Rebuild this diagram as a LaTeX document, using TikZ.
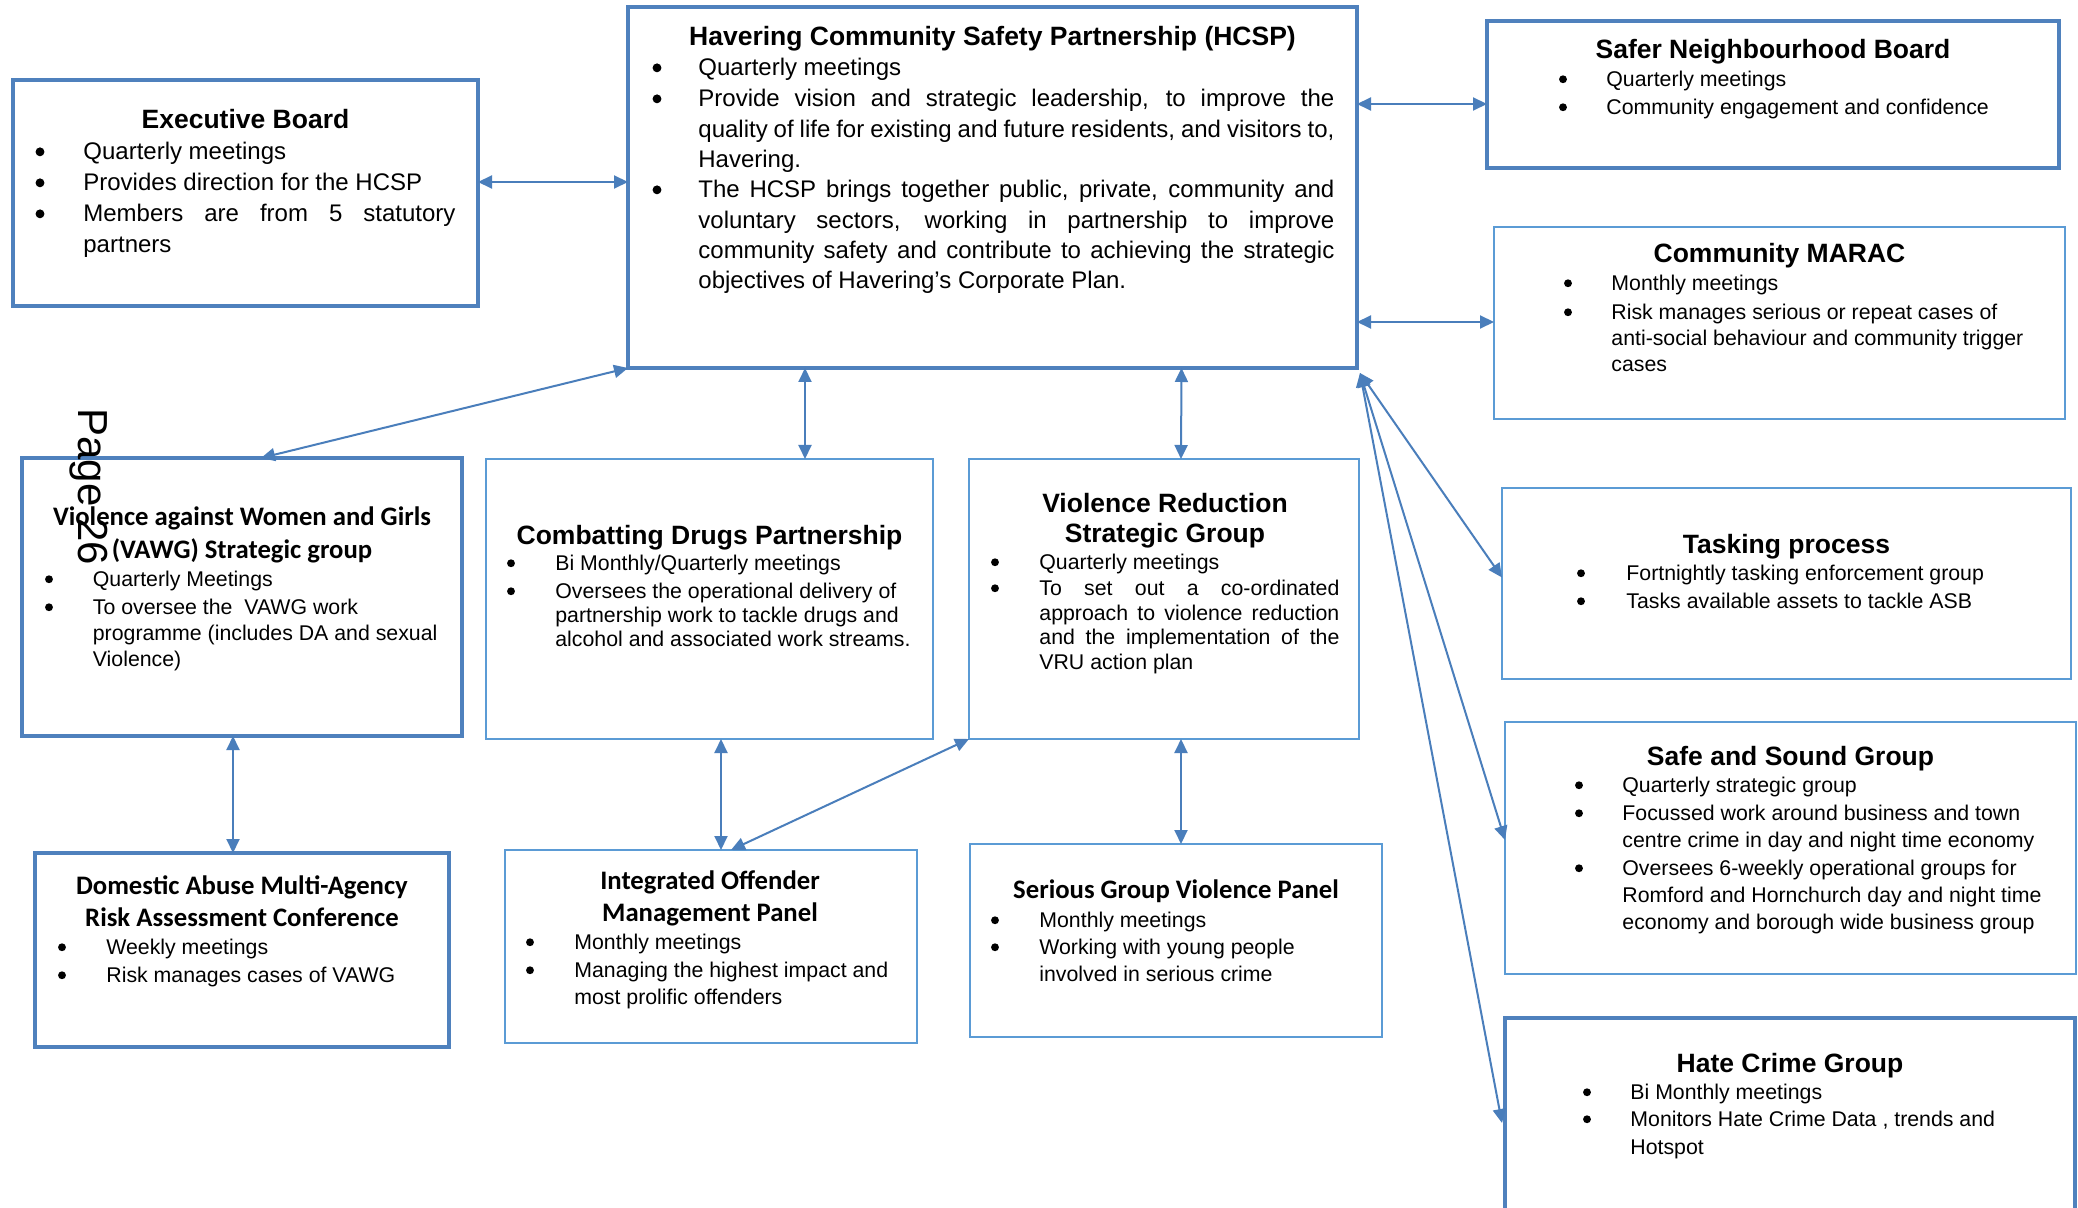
\documentclass[tikz,border=0pt]{standalone}
\usepackage{fontspec}
\setmainfont{Liberation Sans}
\newfontfamily\calibri{Carlito}
\usetikzlibrary{arrows.meta,fit,calc}
\definecolor{thickc}{HTML}{4F81BD}
\definecolor{thinc}{HTML}{5B9BD5}
\definecolor{arrc}{HTML}{4A7EBB}
\newdimen\upx \upx=0.5pt
% name, bullet x, text x, baseline, width(px), font size(pt), baselineskip(pt), text
\newcommand\bpar[8]{%
  \node[bul,minimum size={0.37*#6*1pt}] (#1b) at (#2,{#4-0.68*#6}) {};
  \node[txt] (#1) at (#3,#4) {\parbox[t]{#5\upx}{\fontsize{#6}{#7}\selectfont\tolerance=10000 \hyphenpenalty=10000 \exhyphenpenalty=10000 #8}};}
\begin{document}
\begin{tikzpicture}[x=0.5pt,y=-0.5pt,
  thickbox/.style={draw=thickc, line width=2.35pt, inner sep=0pt, outer sep=0pt},
  thinbox/.style={draw=thinc, line width=1.15pt, inner sep=0pt, outer sep=0pt},
  ttl/.style={inner sep=0pt, anchor=base, font=\fontsize{13.25}{16}\selectfont\bfseries},
  cttl/.style={inner sep=0pt, anchor=base, font=\calibri\fontsize{13.35}{16}\selectfont\bfseries},
  bul/.style={circle, fill=black, inner sep=0pt},
  txt/.style={inner sep=0pt, anchor=base west},
  conn/.style={draw=arrc, line width=1pt, {Triangle[length=7pt,width=6.5pt]}-{Triangle[length=7pt,width=6.5pt]}}]
\fill[white] (0,0) rectangle (2078,1208);
\useasboundingbox (0,0) rectangle (2078,1208);

% Executive Board
\node[thickbox, fit={(13,80) (478,306)}] (exec) {};
\node[ttl] (exect) at (245.5,129) {Executive Board};
\bpar{exa}{40}{83}{160}{372}{12}{15.5}{Quarterly meetings}
\bpar{exb}{40}{83}{191}{372}{12}{15.5}{Provides direction for the HCSP}
\bpar{exc}{40}{83}{222}{372}{12}{15.5}{Members are from 5 statutory\linebreak partners}

% HCSP
\node[thickbox, fit={(628,7) (1357,368)}] (hcsp) {};
\node[ttl] (hcspt) at (992.5,46) {Havering Community Safety Partnership (HCSP)};
\bpar{ha}{657}{698}{76}{636}{12}{15.15}{Quarterly meetings}
\bpar{hb}{657}{698}{107}{636}{12}{15.15}{Provide vision and strategic leadership, to improve the\linebreak quality of life for existing and future residents, and visitors to,\linebreak Havering.}
\bpar{hc}{657}{698}{198}{636}{12}{15.15}{The HCSP brings together public, private, community and\linebreak voluntary sectors, working in partnership to improve\linebreak community safety and contribute to achieving the strategic\linebreak objectives of Havering’s Corporate Plan.}

% Safer Neighbourhood Board
\node[thickbox, fit={(1487,21) (2059,168)}] (safer) {};
\node[ttl] (safert) at (1773,59) {Safer Neighbourhood Board};
\bpar{sa}{1563}{1606}{86.5}{440}{10.65}{13.9}{Quarterly meetings}
\bpar{sb}{1563}{1606}{114.5}{440}{10.65}{13.9}{Community engagement and confidence}

% Community MARAC
\node[thinbox, fit={(1494,227) (2065,419)}] (marac) {};
\node[ttl] (maract) at (1779.5,263) {Community MARAC};
\bpar{ma}{1568}{1611}{290.5}{440}{10.65}{13}{Monthly meetings}
\bpar{mb}{1568}{1611}{319.5}{440}{10.65}{13}{\raggedright Risk manages serious or repeat cases of\\ anti-social behaviour and community trigger\\ cases}

% VAWG
\node[thickbox, fit={(22,458) (462,736)}] (vawg) {};
\node[cttl] (vawgt1) at (242,525.5) {Violence against Women and Girls};
\node[cttl] (vawgt2) at (242,558.5) {(VAWG) Strategic group};
\bpar{va}{49}{92.5}{586.5}{360}{10.65}{13}{Quarterly Meetings}
\bpar{vb}{49}{92.5}{614.5}{360}{10.65}{13}{\raggedright To oversee the\ \ VAWG work\\ programme (includes DA and sexual\\ Violence)}

% Combatting Drugs Partnership
\node[thinbox, fit={(486,459) (933,739)}] (cdp) {};
\node[ttl] (cdpt) at (709.5,544.3) {Combatting Drugs Partnership};
\bpar{ca}{511}{555}{570.5}{370}{10.65}{12}{Bi Monthly/Quarterly meetings}
\bpar{cb}{511}{555}{598.5}{370}{10.65}{12}{\raggedright Oversees the operational delivery of\\ partnership work to tackle drugs and\\ alcohol and associated work streams.}

% Violence Reduction Strategic Group
\node[thinbox, fit={(969,459) (1359,739)}] (vrsg) {};
\node[ttl] (vrsgt1) at (1165,512.3) {Violence Reduction};
\node[ttl] (vrsgt2) at (1165,542.3) {Strategic Group};
\bpar{ra}{995}{1039}{569.5}{300}{10.65}{12.35}{Quarterly meetings}
\bpar{rb}{995}{1039}{595.5}{300}{10.65}{12.35}{To set out a co-ordinated\linebreak approach to violence reduction\linebreak and the implementation of the\linebreak VRU action plan}

% Tasking process
\node[thinbox, fit={(1502,488) (2071,679)}] (task) {};
\node[ttl] (taskt) at (1786.5,553.3) {Tasking process};
\bpar{ta}{1581}{1626}{580.5}{430}{10.65}{14}{Fortnightly tasking enforcement group}
\bpar{tb}{1581}{1626}{608.5}{430}{10.65}{14}{Tasks available assets to tackle ASB}

% Safe and Sound Group
\node[thinbox, fit={(1505,722) (2076,974)}] (sas) {};
\node[ttl] (sast) at (1790.5,765.3) {Safe and Sound Group};
\bpar{aa}{1579}{1622}{792.5}{440}{10.65}{13.6}{Quarterly strategic group}
\bpar{ab}{1579}{1622}{820.5}{440}{10.65}{13.6}{\raggedright Focussed work around business and town\\ centre crime in day and night time economy}
\bpar{ac}{1579}{1622}{875.5}{440}{10.65}{13.6}{\raggedright Oversees 6-weekly operational groups for\\ Romford and Hornchurch day and night time\\ economy and borough wide business group}

% Hate Crime Group
\node[thickbox, fit={(1505,1018) (2075,1240)}] (hate) {};
\node[ttl] (hatet) at (1790,1072.3) {Hate Crime Group};
\bpar{ka}{1587}{1630}{1099.5}{430}{10.65}{14}{Bi Monthly meetings}
\bpar{kb}{1587}{1630}{1126.5}{430}{10.65}{14}{\raggedright Monitors Hate Crime Data , trends and\\ Hotspot}

% Domestic Abuse MARAC
\node[thickbox, fit={(35,853) (449,1047)}] (dam) {};
\node[cttl] (damt1) at (242,894.6) {Domestic Abuse Multi-Agency};
\node[cttl] (damt2) at (242,926.6) {Risk Assessment Conference};
\bpar{da}{62}{106}{954.5}{330}{10.65}{13}{Weekly meetings}
\bpar{db}{62}{106}{982.5}{330}{10.65}{13}{Risk manages cases of VAWG}

% Integrated Offender Management Panel
\node[thinbox, fit={(505,850) (917,1043)}] (iom) {};
\node[cttl] (iomt1) at (710,889.6) {Integrated Offender};
\node[cttl] (iomt2) at (710,921.6) {Management Panel};
\bpar{ia}{530}{574}{949.5}{330}{10.65}{13.5}{Monthly meetings}
\bpar{ib}{530}{574}{977.5}{330}{10.65}{13.5}{\raggedright Managing the highest impact and\\ most prolific offenders}

% Serious Group Violence Panel
\node[thinbox, fit={(970,844) (1382,1037)}] (sgv) {};
\node[cttl] (sgvt) at (1176,898.6) {Serious Group Violence Panel};
\bpar{ga}{995}{1039}{927.5}{330}{10.65}{13.5}{Monthly meetings}
\bpar{gb}{995}{1039}{954.5}{330}{10.65}{13.5}{\raggedright Working with young people\\ involved in serious crime}

% connectors
\draw[conn] ($(exec.east)+(0,-11)$) -- ($(hcsp.west)+(0,-5.5)$);
\draw[conn] ($(hcsp.east)+(0,-83.5)$) -- ($(safer.west)+(0,9.5)$);
\draw[conn] ($(hcsp.east)+(0,134.5)$) -- ($(marac.west)+(0,-1)$);
\draw[conn] (hcsp.south west) -- ($(vawg.north)+(19,0)$);
\draw[conn] ($(hcsp.south)+(-187.5,0)$) -- ($(cdp.north)+(95.5,0)$);
\draw[conn] ($(hcsp.south)+(189,0)$) -- ($(vrsg.north)+(17,0)$);
\draw[conn] ($(hcsp.south east)+(3,5)$) -- ($(task.west)+(0,-6)$);
\draw[conn] ($(hcsp.south east)+(3,5)$) -- ($(sas.west)+(0,-8)$);
\draw[conn] ($(hcsp.south east)+(3,5)$) -- ($(hate.north west)+(-3,105)$);
\draw[conn] ($(vawg.south)+(-9,0)$) -- ($(dam.north)+(-9,0)$);
\draw[conn] ($(cdp.south)+(11.5,0)$) -- ($(iom.north)+(10,0)$);
\draw[conn] (vrsg.south west) -- ($(iom.north)+(20,0)$);
\draw[conn] ($(vrsg.south)+(17,0)$) -- ($(sgv.north)+(5,0)$);

% page number artefact
\node[rotate=-90, anchor=base west, inner sep=0pt, font=\fontsize{21}{25}\selectfont] (pg) at (78,408) {Page 26};
\end{tikzpicture}
\end{document}
